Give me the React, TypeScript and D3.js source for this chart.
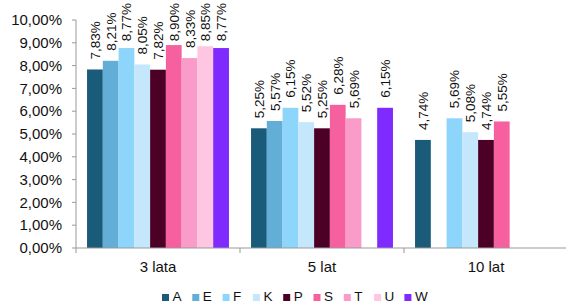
import React from 'react';
import * as d3 from 'd3';

const categories = ['3 lata', '5 lat', '10 lat'];
const seriesNames = ['A', 'E', 'F', 'K', 'P', 'S', 'T', 'U', 'W'];
const seriesColors = ['#1b5b7a', '#63aed6', '#8ed5fb', '#c4e7fc', '#4d0026', '#f6609f', '#fa9cc9', '#fec6e1', '#7f2aff'];
// values per series, one per category (null = no bar)
const values: (number | null)[][] = [
  [7.83, 5.25, 4.74],
  [8.21, 5.57, null],
  [8.77, 6.15, 5.69],
  [8.05, 5.52, 5.08],
  [7.82, 5.25, 4.74],
  [8.9, 6.28, 5.55],
  [8.33, 5.69, null],
  [8.85, null, null],
  [8.77, 6.15, null],
];
const yTicks = [0, 1, 2, 3, 4, 5, 6, 7, 8, 9, 10];

const width = 566;
const height = 304;
const margin = { top: 20, right: 0, bottom: 56, left: 76 };
const font = '"Liberation Sans", Arial, sans-serif';
const labelSize = 13.5;

const fmt = (v: number) => v.toFixed(2).replace('.', ',') + '%';

const App = () => {
  const innerW = 492;
  const innerH = height - margin.top - margin.bottom;

  const x0 = d3.scaleBand().domain(categories).range([0, innerW]);
  const x1 = d3.scaleBand().domain(seriesNames).range([0, x0.bandwidth()]).paddingOuter(0.7).paddingInner(0);
  const y = d3.scaleLinear().domain([0, 10]).range([innerH, 0]);

  const legendStep = 30.3;
  const legendX = 162;

  return (
    <svg width={width} height={height} style={{ position: 'absolute', left: 0, top: 0 }}>
      <g transform={`translate(${margin.left},${margin.top})`} fontFamily={font}>
        {yTicks.map(t => (
          <g key={t} transform={`translate(0,${y(t)})`}>
            <line x1={-4} x2={0} stroke="#999" />
            <text x={-14} dy="0.35em" textAnchor="end" fontSize={15} fill="#111">{fmt(t)}</text>
          </g>
        ))}
        {categories.map((c, ci) =>
          seriesNames.map((s, si) => {
            const v = values[si][ci];
            if (v == null) return null;
            const bx = (x0(c) ?? 0) + (x1(s) ?? 0);
            const bw = x1.bandwidth();
            const by = y(v);
            // keep rotated label inside the top of the picture
            const labelLen = fmt(v).length * 0.567 * labelSize;
            const ly = Math.max(by - 10, 3 - margin.top + labelLen);
            return (
              <g key={c + s}>
                <rect x={bx} y={by} width={bw} height={innerH - by} fill={seriesColors[si]} />
                <g transform={`translate(${bx + bw / 2 + 5},${ly})`}>
                  <g transform="rotate(-90)">
                    <text x={0} y={0} fontSize={labelSize} fill="#111">{fmt(v)}</text>
                  </g>
                </g>
              </g>
            );
          })
        )}
        <line x1={0} x2={0} y1={0} y2={innerH + 5} stroke="#999" />
        <line x1={0} x2={innerW} y1={innerH} y2={innerH} stroke="#999" />
        {categories.slice(1).map(c => (
          <line key={c} x1={x0(c)} x2={x0(c)} y1={innerH} y2={innerH + 5} stroke="#999" />
        ))}
        {categories.map(c => (
          <text key={c} x={(x0(c) ?? 0) + x0.bandwidth() / 2} y={innerH + 24} textAnchor="middle" fontSize={15} fill="#111">{c}</text>
        ))}
      </g>
      <g fontFamily={font}>
        {seriesNames.map((s, i) => (
          <g key={s} transform={`translate(${legendX + i * legendStep},0)`}>
            <rect x={0} y={294} width={7} height={7} fill={seriesColors[i]} />
            <text x={10.5} y={301} fontSize={13.5} fill="#111">{s}</text>
          </g>
        ))}
      </g>
    </svg>
  );
};

export default App;
